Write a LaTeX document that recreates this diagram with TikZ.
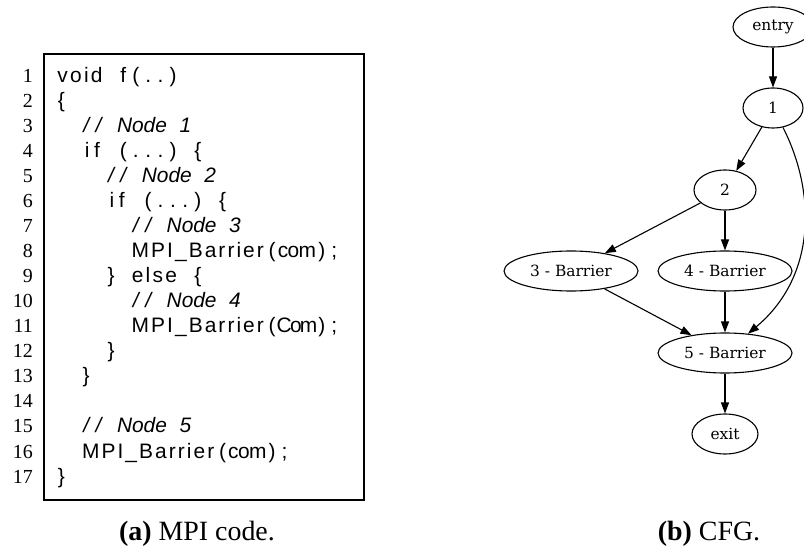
\documentclass[tikz,border=0pt]{standalone}
\usepackage{fontspec}
\setmainfont{Liberation Serif}
\newfontfamily\codefont{Liberation Sans}
\newfontfamily\gfont{DejaVu Serif}
\usetikzlibrary{shapes.geometric,arrows.meta}
\makeatletter
\newcount\lcnt
\newdimen\colw \colw=12.4bp
\newcommand\lw[1]{\lcnt=0 \@tfor\lx:=#1\do{\advance\lcnt by 1 }\hbox to \lcnt\colw{\hss\@tfor\lx:=#1\do{\lx\hss}}}
\makeatother
\newcommand\lsp{\hbox to \colw{}}
\newcommand\lind[1]{\hbox to #1\colw{}}
\newcommand\lcom[1]{{\itshape\lw{/}\lw{/}\lsp\lw{Node}\lsp\lw{#1}}}
\newcommand\lbar[1]{\lw{MPI\_Barrier}\lw{(}\lw{#1}\lw{)}\lw{;}}
\tikzset{
  codeline/.style={anchor=base west, inner sep=0pt, font=\codefont\fontsize{21}{25}\selectfont},
  lnum/.style={anchor=base east, inner sep=0pt, font=\fontsize{20}{24}\selectfont},
  captxt/.style={anchor=base, inner sep=0pt, font=\fontsize{28}{34}\selectfont},
  gnode/.style={ellipse, draw, line width=1.1bp, inner sep=0pt, minimum height=40bp, font=\gfont\fontsize{15.5}{18}\selectfont},
  gedge/.style={-{Triangle[length=11bp,width=8bp]}, line width=1.1bp},
}
\begin{document}
\begin{tikzpicture}[x=1bp,y=-1bp]
\useasboundingbox (0,0) rectangle (804,550);
% code box
\draw[line width=1.2bp] (44,54) rectangle (364,500);
% line numbers
\foreach \k in {1,...,17}{
  \node[lnum] (ln\k) at (33,{82.7+(\k-1)*25.02}) {\k};
}
% code lines
\node[codeline] (c1) at (55,82.7) {\lw{void}\lsp\lw{f}\lw{(}\lw{.}\lw{.}\lw{)}};
\node[codeline] (c2) at (55,107.72) {\lw{\{}};
\node[codeline] (c3) at (55,132.74) {\lind{2}\lcom{1}};
\node[codeline] (c4) at (55,157.76) {\lind{2}\lw{if}\lsp\lw{(}\lw{.}\lw{.}\lw{.}\lw{)}\lsp\lw{\{}};
\node[codeline] (c5) at (55,182.78) {\lind{4}\lcom{2}};
\node[codeline] (c6) at (55,207.8) {\lind{4}\lw{if}\lsp\lw{(}\lw{.}\lw{.}\lw{.}\lw{)}\lsp\lw{\{}};
\node[codeline] (c7) at (55,232.82) {\lind{6}\lcom{3}};
\node[codeline] (c8) at (55,257.84) {\lind{6}\lbar{com}};
\node[codeline] (c9) at (55,282.86) {\lind{4}\lw{\}}\lsp\lw{else}\lsp\lw{\{}};
\node[codeline] (c10) at (55,307.88) {\lind{6}\lcom{4}};
\node[codeline] (c11) at (55,332.9) {\lind{6}\lbar{Com}};
\node[codeline] (c12) at (55,357.92) {\lind{4}\lw{\}}};
\node[codeline] (c13) at (55,382.94) {\lind{2}\lw{\}}};
\node[codeline] (c15) at (55,432.98) {\lind{2}\lcom{5}};
\node[codeline] (c16) at (55,458.0) {\lind{2}\lbar{com}};
\node[codeline] (c17) at (55,483.02) {\lw{\}}};
% captions
\node[captxt] (capa) at (197,540) {\textbf{(a)} MPI code.};
\node[captxt] (capb) at (709,540) {\textbf{(b)} CFG.};
% graph
\node[gnode, minimum width=80bp] (entry) at (773,27) {entry};
\node[gnode, minimum width=60bp] (g1) at (773,108) {1};
\node[gnode, minimum width=62bp] (g2) at (725,190) {2};
\node[gnode, minimum width=134bp] (g3) at (571,271) {3 - Barrier};
\node[gnode, minimum width=134bp] (g4) at (725,271) {4 - Barrier};
\node[gnode, minimum width=134bp] (g5) at (725,353) {5 - Barrier};
\node[gnode, minimum width=66bp] (exit) at (725,434) {exit};
\draw[gedge] (entry) -- (g1);
\draw[gedge] (g1) -- (g2);
\draw[gedge] (g2) -- (g3);
\draw[gedge] (g2) -- (g4);
\draw[gedge] (g3) -- (g5);
\draw[gedge] (g4) -- (g5);
\draw[gedge] (g1) .. controls (815,190) and (818,275) .. (g5);
\draw[gedge] (g5) -- (exit);
\end{tikzpicture}
\end{document}
